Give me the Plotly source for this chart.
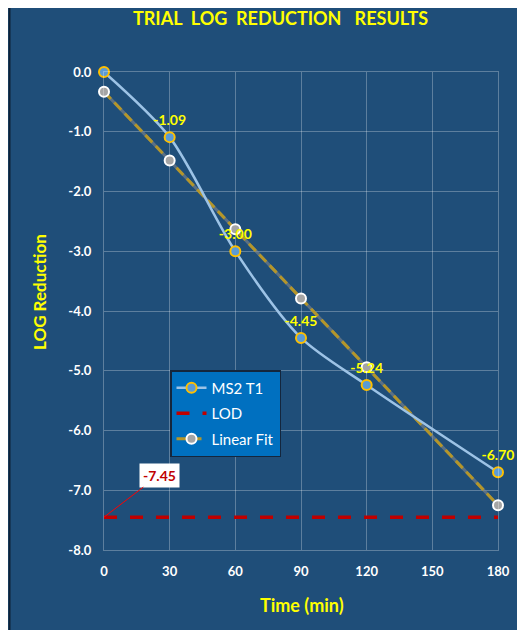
import plotly.graph_objects as go

time_min = [0, 30, 60, 90, 120, 180]
ms2_t1 = [0.0, -1.09, -3.00, -4.45, -5.24, -6.70]
ms2_labels = ["", "-1.09", "-3.00", "-4.45", "-5.24", "-6.70"]
linear_fit = [-0.33, -1.48, -2.63, -3.79, -4.94, -7.25]
lod_x = [0, 180]
lod_value = -7.45
x_ticks = [0, 30, 60, 90, 120, 150, 180]
y_ticks = [0, -1, -2, -3, -4, -5, -6, -7, -8]
y_tick_text = ["0.0", "-1.0", "-2.0", "-3.0", "-4.0", "-5.0", "-6.0", "-7.0", "-8.0"]

BG = "#1F4E79"
FONT = "Lato"
YELLOW = "#FFFF00"

# page has 8px body margin: plot area in screen px x 104..498, y 72..550
L, T = 96, 64
PW, PH = 394, 478


def px_x(sx):
    return (sx - 8 - L) / PW


def px_y(sy):
    return 1 - (sy - 8 - T) / PH


fig = go.Figure()

fig.add_trace(go.Scatter(
    x=time_min, y=linear_fit, mode="lines",
    line=dict(color="rgba(140,140,140,0.55)", width=3),
    showlegend=False, hoverinfo="skip", cliponaxis=False))

fig.add_trace(go.Scatter(
    x=time_min, y=linear_fit, mode="lines+markers", name="Linear Fit",
    line=dict(color="#B4962A", width=3, dash="10px,5px"),
    marker=dict(size=10, color="#A5A5A5", line=dict(color="white", width=2)),
    legendrank=3, legendgroup="c", cliponaxis=False))

fig.add_trace(go.Scatter(
    x=lod_x, y=[lod_value, lod_value], mode="lines", name="LOD",
    line=dict(color="#C00000", width=3.5, dash="13px,13px"),
    legendrank=2, legendgroup="b", cliponaxis=False))

fig.add_trace(go.Scatter(
    x=time_min, y=ms2_t1, mode="lines+markers", name="MS2 T1",
    line=dict(color="#9DC3E6", width=2.5, shape="spline", smoothing=0.8),
    marker=dict(size=10, color="#5B9BD5", line=dict(color="#FFC000", width=2)),
    legendrank=1, legendgroup="a", cliponaxis=False))

# data labels on top of everything (invisible markers keep the offset)
fig.add_trace(go.Scatter(
    x=time_min, y=ms2_t1, mode="markers+text",
    marker=dict(size=12, color="rgba(0,0,0,0)"),
    text=["<b>%s</b>" % t if t else "" for t in ms2_labels], textposition="top center",
    textfont=dict(color=YELLOW, size=14, family=FONT),
    showlegend=False, hoverinfo="skip", cliponaxis=False))

axis_common = dict(
    showgrid=True, gridcolor="rgba(255,255,255,0.28)", gridwidth=1,
    zeroline=False, showline=True, linecolor="rgba(255,255,255,0.28)",
    linewidth=1, mirror=True,
    tickfont=dict(color="white", size=13, family=FONT),
    ticks="outside", ticklen=9, tickcolor="rgba(0,0,0,0)",
)

fig.update_xaxes(range=[0, 180], tickvals=x_ticks,
                 ticktext=["<b>%d</b>" % v for v in x_ticks], **axis_common)
fig.update_yaxes(range=[-8, 0], tickvals=y_ticks,
                 ticktext=["<b>%s</b>" % t for t in y_tick_text], **axis_common)

fig.update_layout(
    width=517, height=622,
    margin=dict(l=L, r=27, t=T, b=80),
    paper_bgcolor=BG, plot_bgcolor=BG,
    font=dict(family=FONT, color="white"),
    showlegend=True,
    legend=dict(
        x=px_x(170), y=px_y(370),
        xanchor="left", yanchor="top",
        bgcolor="#0070C0", bordercolor="#14263d", borderwidth=1.5,
        font=dict(color="white", size=15, family=FONT),
        tracegroupgap=3, itemwidth=30,
    ),
    shapes=[
        dict(type="line", xref="paper", yref="paper",
             x0=px_x(9.5), x1=px_x(9.5), y0=-0.5, y1=1.5,
             line=dict(color="#0f2238", width=2), layer="above"),
    ],
    annotations=[
        dict(text="<b>TRIAL  LOG  REDUCTION   RESULTS</b>", xref="paper", yref="paper",
             x=px_x(280), y=px_y(18), xanchor="center", yanchor="middle",
             showarrow=False, font=dict(color=YELLOW, size=18, family=FONT)),
        dict(text="<b>Time (min)</b>", xref="paper", yref="paper",
             x=px_x(302), y=px_y(605), xanchor="center", yanchor="middle",
             showarrow=False, font=dict(color=YELLOW, size=18, family=FONT)),
        dict(text="<b>LOG Reduction</b>", xref="paper", yref="paper",
             x=px_x(39), y=px_y(292), xanchor="center", yanchor="middle",
             textangle=-90, showarrow=False, font=dict(color=YELLOW, size=17, family=FONT)),
        dict(text="<b>-7.45</b>", x=0, y=lod_value, xref="x", yref="y",
             ax=55, ay=-42, showarrow=True, arrowhead=0, arrowwidth=1,
             arrowcolor="#FF0000", bgcolor="white", borderpad=3,
             font=dict(color="#C00000", size=14, family=FONT)),
    ],
)

fig.write_html("out.html")
